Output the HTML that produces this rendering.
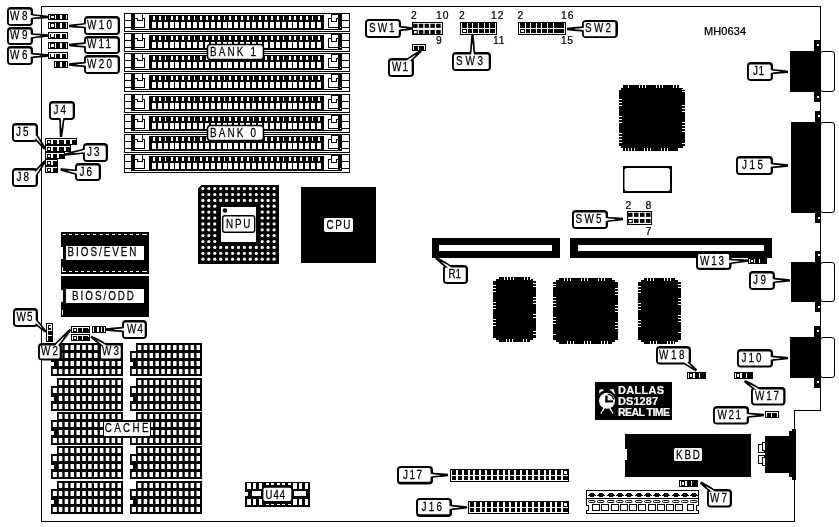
<!DOCTYPE html>
<html><head><meta charset="utf-8"><title>MH0634</title>
<style>
html,body{margin:0;padding:0;background:#fff;}
body{width:839px;height:527px;overflow:hidden;font-family:"Liberation Sans",sans-serif;}
svg{display:block;will-change:transform;}
svg text{font-family:"Liberation Sans",sans-serif;}
</style></head><body>
<svg width="839" height="527" viewBox="0 0 839 527" shape-rendering="crispEdges">
<rect x="0" y="0" width="839" height="527" fill="#fff"/>
<rect x="41" y="6" width="780" height="1" fill="#000"/>
<rect x="41" y="6" width="1" height="516" fill="#000"/>
<rect x="41" y="521" width="754" height="1" fill="#000"/>
<rect x="820" y="6" width="1" height="405" fill="#000"/>
<rect x="794" y="410" width="27" height="1" fill="#000"/>
<rect x="794" y="410" width="1" height="112" fill="#000"/>
<defs><g id="simm">
<rect x="124" y="0" width="226" height="1" fill="#000"/>
<rect x="124" y="18" width="226" height="1" fill="#000"/>
<rect x="124" y="0" width="1" height="19" fill="#000"/>
<rect x="349" y="0" width="1" height="19" fill="#000"/>
<rect x="124" y="7" width="8" height="1" fill="#000"/>
<rect x="124" y="14" width="8" height="1" fill="#000"/>
<rect x="131" y="0" width="4" height="17" fill="#000"/>
<rect x="131" y="16" width="211" height="1" fill="#000"/>
<rect x="142" y="0" width="1" height="8" fill="#000"/>
<rect x="135" y="5" width="3" height="1" fill="#000"/>
<rect x="137" y="5" width="1" height="3" fill="#000"/>
<rect x="137" y="7" width="6" height="1" fill="#000"/>
<rect x="142" y="5" width="3" height="1" fill="#000"/>
<rect x="144" y="5" width="1" height="10" fill="#000"/>
<rect x="135" y="14" width="10" height="1" fill="#000"/>
<rect x="149" y="2" width="175" height="15" fill="#000"/>
<rect x="153" y="3" width="2" height="4" fill="#fff"/>
<rect x="152" y="9" width="4" height="6" fill="#fff"/>
<rect x="159" y="3" width="2" height="4" fill="#fff"/>
<rect x="158" y="9" width="4" height="6" fill="#fff"/>
<rect x="165" y="3" width="1" height="4" fill="#fff"/>
<rect x="164" y="9" width="4" height="6" fill="#fff"/>
<rect x="171" y="3" width="2" height="4" fill="#fff"/>
<rect x="170" y="9" width="4" height="6" fill="#fff"/>
<rect x="176" y="3" width="2" height="4" fill="#fff"/>
<rect x="175" y="9" width="4" height="6" fill="#fff"/>
<rect x="182" y="3" width="2" height="4" fill="#fff"/>
<rect x="181" y="9" width="4" height="6" fill="#fff"/>
<rect x="188" y="3" width="2" height="4" fill="#fff"/>
<rect x="187" y="9" width="4" height="6" fill="#fff"/>
<rect x="194" y="3" width="1" height="4" fill="#fff"/>
<rect x="193" y="9" width="4" height="6" fill="#fff"/>
<rect x="200" y="3" width="2" height="4" fill="#fff"/>
<rect x="199" y="9" width="4" height="6" fill="#fff"/>
<rect x="206" y="3" width="2" height="4" fill="#fff"/>
<rect x="205" y="9" width="4" height="6" fill="#fff"/>
<rect x="212" y="3" width="2" height="4" fill="#fff"/>
<rect x="211" y="9" width="4" height="6" fill="#fff"/>
<rect x="218" y="3" width="2" height="4" fill="#fff"/>
<rect x="217" y="9" width="4" height="6" fill="#fff"/>
<rect x="224" y="3" width="1" height="4" fill="#fff"/>
<rect x="223" y="9" width="4" height="6" fill="#fff"/>
<rect x="229" y="3" width="2" height="4" fill="#fff"/>
<rect x="228" y="9" width="4" height="6" fill="#fff"/>
<rect x="235" y="3" width="2" height="4" fill="#fff"/>
<rect x="234" y="9" width="4" height="6" fill="#fff"/>
<rect x="241" y="3" width="2" height="4" fill="#fff"/>
<rect x="240" y="9" width="4" height="6" fill="#fff"/>
<rect x="247" y="3" width="2" height="4" fill="#fff"/>
<rect x="246" y="9" width="4" height="6" fill="#fff"/>
<rect x="253" y="3" width="1" height="4" fill="#fff"/>
<rect x="252" y="9" width="4" height="6" fill="#fff"/>
<rect x="259" y="3" width="2" height="4" fill="#fff"/>
<rect x="258" y="9" width="4" height="6" fill="#fff"/>
<rect x="265" y="3" width="2" height="4" fill="#fff"/>
<rect x="264" y="9" width="4" height="6" fill="#fff"/>
<rect x="271" y="3" width="2" height="4" fill="#fff"/>
<rect x="270" y="9" width="4" height="6" fill="#fff"/>
<rect x="277" y="3" width="2" height="4" fill="#fff"/>
<rect x="276" y="9" width="4" height="6" fill="#fff"/>
<rect x="283" y="3" width="1" height="4" fill="#fff"/>
<rect x="282" y="9" width="4" height="6" fill="#fff"/>
<rect x="289" y="3" width="2" height="4" fill="#fff"/>
<rect x="288" y="9" width="4" height="6" fill="#fff"/>
<rect x="294" y="3" width="2" height="4" fill="#fff"/>
<rect x="293" y="9" width="4" height="6" fill="#fff"/>
<rect x="300" y="3" width="2" height="4" fill="#fff"/>
<rect x="299" y="9" width="4" height="6" fill="#fff"/>
<rect x="306" y="3" width="2" height="4" fill="#fff"/>
<rect x="305" y="9" width="4" height="6" fill="#fff"/>
<rect x="312" y="3" width="1" height="4" fill="#fff"/>
<rect x="311" y="9" width="4" height="6" fill="#fff"/>
<rect x="318" y="3" width="2" height="4" fill="#fff"/>
<rect x="317" y="9" width="4" height="6" fill="#fff"/>
<rect x="331" y="1" width="8" height="1" fill="#000"/>
<rect x="331" y="1" width="1" height="8" fill="#000"/>
<rect x="331" y="8" width="6" height="1" fill="#000"/>
<rect x="336" y="5" width="1" height="4" fill="#000"/>
<rect x="336" y="5" width="3" height="1" fill="#000"/>
<rect x="328" y="5" width="4" height="1" fill="#000"/>
<rect x="328" y="5" width="1" height="10" fill="#000"/>
<rect x="328" y="14" width="11" height="1" fill="#000"/>
<rect x="338" y="0" width="4" height="17" fill="#000"/>
<rect x="340" y="14" width="1" height="1" fill="#fff"/>
<rect x="342" y="7" width="8" height="1" fill="#000"/>
<rect x="342" y="14" width="8" height="1" fill="#000"/>
</g></defs>
<use href="#simm" y="13"/>
<use href="#simm" y="33"/>
<use href="#simm" y="53"/>
<use href="#simm" y="73"/>
<use href="#simm" y="94"/>
<use href="#simm" y="114"/>
<use href="#simm" y="134"/>
<use href="#simm" y="154"/>
<rect x="48" y="14" width="20" height="6" fill="#000"/>
<rect x="49" y="15" width="1" height="4" fill="#fff"/>
<rect x="55" y="15" width="1" height="4" fill="#fff"/>
<rect x="60" y="15" width="2" height="4" fill="#fff"/>
<rect x="66" y="15" width="1" height="4" fill="#fff"/>
<rect x="51" y="16" width="3" height="2" fill="#fff"/>
<rect x="48" y="22" width="20" height="7" fill="#000"/>
<rect x="49" y="23" width="1" height="5" fill="#fff"/>
<rect x="55" y="23" width="1" height="5" fill="#fff"/>
<rect x="60" y="23" width="2" height="5" fill="#fff"/>
<rect x="66" y="23" width="1" height="5" fill="#fff"/>
<rect x="51" y="24" width="3" height="3" fill="#fff"/>
<rect x="48" y="32" width="20" height="7" fill="#000"/>
<rect x="49" y="33" width="1" height="5" fill="#fff"/>
<rect x="55" y="33" width="1" height="5" fill="#fff"/>
<rect x="60" y="33" width="2" height="5" fill="#fff"/>
<rect x="66" y="33" width="1" height="5" fill="#fff"/>
<rect x="51" y="34" width="3" height="3" fill="#fff"/>
<rect x="49" y="33" width="18" height="1" fill="#fff"/>
<rect x="48" y="42" width="20" height="7" fill="#000"/>
<rect x="49" y="43" width="1" height="5" fill="#fff"/>
<rect x="55" y="43" width="1" height="5" fill="#fff"/>
<rect x="60" y="43" width="2" height="5" fill="#fff"/>
<rect x="66" y="43" width="1" height="5" fill="#fff"/>
<rect x="51" y="44" width="3" height="3" fill="#fff"/>
<rect x="48" y="52" width="20" height="7" fill="#000"/>
<rect x="49" y="53" width="1" height="5" fill="#fff"/>
<rect x="55" y="53" width="1" height="5" fill="#fff"/>
<rect x="60" y="53" width="2" height="5" fill="#fff"/>
<rect x="66" y="53" width="1" height="5" fill="#fff"/>
<rect x="51" y="54" width="3" height="3" fill="#fff"/>
<rect x="49" y="53" width="18" height="1" fill="#fff"/>
<rect x="54" y="61" width="14" height="7" fill="#000"/>
<rect x="55" y="62" width="1" height="5" fill="#fff"/>
<rect x="60" y="62" width="2" height="5" fill="#fff"/>
<rect x="66" y="62" width="1" height="5" fill="#fff"/>
<g shape-rendering="geometricPrecision">
<polygon points="31,12.8 33.9606,14.186 41.2559,14.9008 48.0338,15.8505 47.9662,18.1495 41.1441,18.6992 33.8194,18.984 31,20.2" fill="#000"/>
</g>
<rect x="7" y="7" width="26" height="19" rx="4" fill="#000" shape-rendering="geometricPrecision"/>
<rect x="8.9" y="9.4" width="21.8" height="14.6" rx="1.5" fill="#fff" shape-rendering="geometricPrecision"/>
<g shape-rendering="geometricPrecision">
<polygon points="29.3,14.75 33.9135,15.7853 40.3559,16.5751 40.3441,16.9749 33.8665,17.3847 29.3,18.15" fill="#fff"/>
</g>
<text transform="translate(10,20) scale(0.76,1)" font-size="13" font-weight="normal" fill="#000" stroke="#000" stroke-width="0.25" text-anchor="start" textLength="23.0263" lengthAdjust="spacing">W8</text>
<g shape-rendering="geometricPrecision">
<polygon points="31,32.3 33.8194,33.516 41.1441,33.8008 47.9662,34.3505 48.0338,36.6495 41.2559,37.5992 33.9606,38.314 31,39.7" fill="#000"/>
</g>
<rect x="7" y="27" width="26" height="18" rx="4" fill="#000" shape-rendering="geometricPrecision"/>
<rect x="8.9" y="29.4" width="21.8" height="13.6" rx="1.5" fill="#fff" shape-rendering="geometricPrecision"/>
<g shape-rendering="geometricPrecision">
<polygon points="29.3,34.35 33.8665,35.1153 40.3441,35.5251 40.3559,35.9249 33.9135,36.7147 29.3,37.75" fill="#fff"/>
</g>
<text transform="translate(10,39) scale(0.76,1)" font-size="13" font-weight="normal" fill="#000" stroke="#000" stroke-width="0.25" text-anchor="start" textLength="23.0263" lengthAdjust="spacing">W9</text>
<g shape-rendering="geometricPrecision">
<polygon points="31,51.8 33.89,53.1 41.2,53.6 48,54.35 48,56.65 41.2,57.4 33.89,57.9 31,59.2" fill="#000"/>
</g>
<rect x="7" y="46" width="26" height="19" rx="4" fill="#000" shape-rendering="geometricPrecision"/>
<rect x="8.9" y="48.4" width="21.8" height="14.6" rx="1.5" fill="#fff" shape-rendering="geometricPrecision"/>
<g shape-rendering="geometricPrecision">
<polygon points="29.3,53.8 33.89,54.7 40.35,55.3 40.35,55.7 33.89,56.3 29.3,57.2" fill="#fff"/>
</g>
<text transform="translate(10,59) scale(0.76,1)" font-size="13" font-weight="normal" fill="#000" stroke="#000" stroke-width="0.25" text-anchor="start" textLength="23.0263" lengthAdjust="spacing">W6</text>
<g shape-rendering="geometricPrecision">
<polygon points="86,21.8 83.0394,23.186 75.7441,23.9008 68.9662,24.8505 69.0338,27.1495 75.8559,27.6992 83.1806,27.984 86,29.2" fill="#000"/>
</g>
<rect x="84" y="16" width="36" height="19" rx="4" fill="#000" shape-rendering="geometricPrecision"/>
<rect x="85.9" y="18.4" width="31.8" height="14.6" rx="1.5" fill="#fff" shape-rendering="geometricPrecision"/>
<g shape-rendering="geometricPrecision">
<polygon points="87.7,23.75 83.0865,24.7853 76.6441,25.5751 76.6559,25.9749 83.1335,26.3847 87.7,27.15" fill="#fff"/>
</g>
<text transform="translate(87,29) scale(0.76,1)" font-size="13" font-weight="normal" fill="#000" stroke="#000" stroke-width="0.25" text-anchor="start" textLength="32.8947" lengthAdjust="spacing">W10</text>
<g shape-rendering="geometricPrecision">
<polygon points="86,41.3 83.11,42.6 75.8,43.1 69,43.85 69,46.15 75.8,46.9 83.11,47.4 86,48.7" fill="#000"/>
</g>
<rect x="84" y="36" width="36" height="18" rx="4" fill="#000" shape-rendering="geometricPrecision"/>
<rect x="85.9" y="38.4" width="31.8" height="13.6" rx="1.5" fill="#fff" shape-rendering="geometricPrecision"/>
<g shape-rendering="geometricPrecision">
<polygon points="87.7,43.3 83.11,44.2 76.65,44.8 76.65,45.2 83.11,45.8 87.7,46.7" fill="#fff"/>
</g>
<text transform="translate(87,48) scale(0.76,1)" font-size="13" font-weight="normal" fill="#000" stroke="#000" stroke-width="0.25" text-anchor="start" textLength="31.5789" lengthAdjust="spacing">W11</text>
<g shape-rendering="geometricPrecision">
<polygon points="86,60.8 83.11,62.1 75.8,62.6 69,63.35 69,65.65 75.8,66.4 83.11,66.9 86,68.2" fill="#000"/>
</g>
<rect x="84" y="55" width="36" height="19" rx="4" fill="#000" shape-rendering="geometricPrecision"/>
<rect x="85.9" y="57.4" width="31.8" height="14.6" rx="1.5" fill="#fff" shape-rendering="geometricPrecision"/>
<g shape-rendering="geometricPrecision">
<polygon points="87.7,62.8 83.11,63.7 76.65,64.3 76.65,64.7 83.11,65.3 87.7,66.2" fill="#fff"/>
</g>
<text transform="translate(87,68) scale(0.76,1)" font-size="13" font-weight="normal" fill="#000" stroke="#000" stroke-width="0.25" text-anchor="start" textLength="32.8947" lengthAdjust="spacing">W20</text>
<rect x="45" y="138" width="32" height="7" fill="#000"/>
<rect x="46" y="139" width="30" height="1" fill="#fff"/>
<rect x="46" y="139" width="1" height="5" fill="#fff"/>
<rect x="48" y="141" width="2" height="2" fill="#fff"/>
<rect x="51" y="139" width="2" height="5" fill="#fff"/>
<rect x="57" y="139" width="2" height="5" fill="#fff"/>
<rect x="64" y="139" width="2" height="5" fill="#fff"/>
<rect x="70" y="139" width="2" height="5" fill="#fff"/>
<rect x="45" y="145" width="26" height="7" fill="#000"/>
<rect x="46" y="146" width="24" height="1" fill="#fff"/>
<rect x="46" y="146" width="1" height="5" fill="#fff"/>
<rect x="48" y="148" width="2" height="2" fill="#fff"/>
<rect x="51" y="146" width="2" height="5" fill="#fff"/>
<rect x="57" y="146" width="2" height="5" fill="#fff"/>
<rect x="64" y="146" width="2" height="5" fill="#fff"/>
<rect x="45" y="152" width="20" height="7" fill="#000"/>
<rect x="46" y="153" width="18" height="1" fill="#fff"/>
<rect x="46" y="153" width="1" height="5" fill="#fff"/>
<rect x="48" y="155" width="2" height="2" fill="#fff"/>
<rect x="51" y="153" width="2" height="5" fill="#fff"/>
<rect x="57" y="153" width="2" height="5" fill="#fff"/>
<rect x="45" y="159" width="13" height="7" fill="#000"/>
<rect x="46" y="160" width="11" height="1" fill="#fff"/>
<rect x="46" y="160" width="1" height="5" fill="#fff"/>
<rect x="48" y="162" width="2" height="2" fill="#fff"/>
<rect x="51" y="160" width="2" height="5" fill="#fff"/>
<rect x="45" y="166" width="13" height="7" fill="#000"/>
<rect x="46" y="167" width="11" height="1" fill="#fff"/>
<rect x="46" y="167" width="1" height="5" fill="#fff"/>
<rect x="48" y="169" width="2" height="2" fill="#fff"/>
<rect x="51" y="167" width="2" height="5" fill="#fff"/>
<g shape-rendering="geometricPrecision">
<polygon points="58.3,118 59.4333,121.104 59.5026,129.3 59.8516,136.94 62.1484,137.06 63.2974,129.5 64.2267,121.356 65.7,118" fill="#000"/>
</g>
<rect x="49" y="101" width="26" height="19" rx="4" fill="#000" shape-rendering="geometricPrecision"/>
<rect x="50.9" y="103.4" width="21.8" height="14.6" rx="1.5" fill="#fff" shape-rendering="geometricPrecision"/>
<g shape-rendering="geometricPrecision">
<polygon points="60.4,116.1 61.0311,121.188 61.2503,128.439 61.6497,128.461 62.6289,121.272 63.8,116.1" fill="#fff"/>
</g>
<text transform="translate(53.5,114) scale(0.76,1)" font-size="13" font-weight="normal" fill="#000" stroke="#000" stroke-width="0.25" text-anchor="start" textLength="16.4474" lengthAdjust="spacing">J4</text>
<g shape-rendering="geometricPrecision">
<polygon points="36,133.3 39.45,137.6 42.92,143.06 45.92,148.31 44.08,149.69 39.88,145.34 35.61,140.48 36,140.7" fill="#000"/>
</g>
<rect x="12" y="123" width="26" height="19" rx="4" fill="#000" shape-rendering="geometricPrecision"/>
<rect x="13.9" y="125.4" width="21.8" height="14.6" rx="1.5" fill="#fff" shape-rendering="geometricPrecision"/>
<g shape-rendering="geometricPrecision">
<polygon points="35.1,134.1 38.17,138.56 41.11,143.48 40.79,143.72 36.89,139.52 35.1,137.5" fill="#fff"/>
</g>
<text transform="translate(16,136) scale(0.76,1)" font-size="13" font-weight="normal" fill="#000" stroke="#000" stroke-width="0.25" text-anchor="start" textLength="16.4474" lengthAdjust="spacing">J5</text>
<g shape-rendering="geometricPrecision">
<polygon points="85,147.3 81.1748,149.25 72.6634,151.29 64.7963,153.468 65.2037,155.732 73.3366,155.03 82.0252,153.974 85,154.7" fill="#000"/>
</g>
<rect x="83" y="143" width="25" height="19" rx="4" fill="#000" shape-rendering="geometricPrecision"/>
<rect x="84.9" y="145.4" width="20.8" height="14.6" rx="1.5" fill="#fff" shape-rendering="geometricPrecision"/>
<g shape-rendering="geometricPrecision">
<polygon points="87,148.94 81.4583,150.825 73.9646,152.783 74.0354,153.177 81.7417,152.399 87,152.34" fill="#fff"/>
</g>
<text transform="translate(87,156) scale(0.76,1)" font-size="13" font-weight="normal" fill="#000" stroke="#000" stroke-width="0.25" text-anchor="start" textLength="16.4474" lengthAdjust="spacing">J3</text>
<g shape-rendering="geometricPrecision">
<polygon points="36,169.3 35.61,169.52 39.88,164.66 44.08,160.31 45.92,161.69 42.92,166.94 39.45,172.4 36,176.7" fill="#000"/>
</g>
<rect x="12" y="168" width="26" height="19" rx="4" fill="#000" shape-rendering="geometricPrecision"/>
<rect x="13.9" y="170.4" width="21.8" height="14.6" rx="1.5" fill="#fff" shape-rendering="geometricPrecision"/>
<g shape-rendering="geometricPrecision">
<polygon points="35.1,172.5 36.89,170.48 40.79,166.28 41.11,166.52 38.17,171.44 35.1,175.9" fill="#fff"/>
</g>
<text transform="translate(16.5,181) scale(0.76,1)" font-size="13" font-weight="normal" fill="#000" stroke="#000" stroke-width="0.25" text-anchor="start" textLength="16.4474" lengthAdjust="spacing">J8</text>
<g shape-rendering="geometricPrecision">
<polygon points="77,168.7 74.6382,169.514 67.4508,168.673 60.7123,168.17 60.2877,170.43 66.7492,172.407 73.7518,174.232 77,176.1" fill="#000"/>
</g>
<rect x="75" y="163" width="26" height="18" rx="4" fill="#000" shape-rendering="geometricPrecision"/>
<rect x="76.9" y="165.4" width="21.8" height="13.6" rx="1.5" fill="#fff" shape-rendering="geometricPrecision"/>
<g shape-rendering="geometricPrecision">
<polygon points="78.65,171.01 74.3427,171.087 67.9619,170.498 67.8881,170.892 74.0473,172.659 78.65,174.41" fill="#fff"/>
</g>
<text transform="translate(79.5,175.8) scale(0.76,1)" font-size="13" font-weight="normal" fill="#000" stroke="#000" stroke-width="0.25" text-anchor="start" textLength="16.4474" lengthAdjust="spacing">J6</text>
<rect x="207.5" y="44.5" width="56" height="15" rx="3" fill="#fff" stroke="#000" stroke-width="1.6" shape-rendering="geometricPrecision"/>
<text transform="translate(210,55.5) scale(0.76,1)" font-size="13" font-weight="normal" fill="#000" stroke="#000" stroke-width="0.25" text-anchor="start" textLength="60.5263" lengthAdjust="spacing">BANK 1</text>
<rect x="207.5" y="125.5" width="56" height="15" rx="3" fill="#fff" stroke="#000" stroke-width="1.6" shape-rendering="geometricPrecision"/>
<text transform="translate(210,136.5) scale(0.76,1)" font-size="13" font-weight="normal" fill="#000" stroke="#000" stroke-width="0.25" text-anchor="start" textLength="60.5263" lengthAdjust="spacing">BANK 0</text>
<rect x="198" y="185" width="81" height="79" fill="#000"/>
<polygon points="198,185 201,185 198,188" fill="#fff"/>
<g fill="#fff" shape-rendering="geometricPrecision">
<circle cx="202.9" cy="188.6" r="1.6"/>
<circle cx="208.8" cy="188.6" r="1.6"/>
<circle cx="214.8" cy="188.6" r="1.6"/>
<circle cx="220.7" cy="188.6" r="1.6"/>
<circle cx="226.6" cy="188.6" r="1.6"/>
<circle cx="232.6" cy="188.6" r="1.6"/>
<circle cx="238.5" cy="188.6" r="1.6"/>
<circle cx="244.4" cy="188.6" r="1.6"/>
<circle cx="250.3" cy="188.6" r="1.6"/>
<circle cx="256.3" cy="188.6" r="1.6"/>
<circle cx="262.2" cy="188.6" r="1.6"/>
<circle cx="268.1" cy="188.6" r="1.6"/>
<circle cx="274.1" cy="188.6" r="1.6"/>
<circle cx="202.9" cy="194.5" r="1.6"/>
<circle cx="208.8" cy="194.5" r="1.6"/>
<circle cx="214.8" cy="194.5" r="1.6"/>
<circle cx="220.7" cy="194.5" r="1.6"/>
<circle cx="226.6" cy="194.5" r="1.6"/>
<circle cx="232.6" cy="194.5" r="1.6"/>
<circle cx="238.5" cy="194.5" r="1.6"/>
<circle cx="244.4" cy="194.5" r="1.6"/>
<circle cx="250.3" cy="194.5" r="1.6"/>
<circle cx="256.3" cy="194.5" r="1.6"/>
<circle cx="262.2" cy="194.5" r="1.6"/>
<circle cx="268.1" cy="194.5" r="1.6"/>
<circle cx="274.1" cy="194.5" r="1.6"/>
<circle cx="202.9" cy="200.4" r="1.6"/>
<circle cx="208.8" cy="200.4" r="1.6"/>
<circle cx="214.8" cy="200.4" r="1.6"/>
<circle cx="220.7" cy="200.4" r="1.6"/>
<circle cx="226.6" cy="200.4" r="1.6"/>
<circle cx="232.6" cy="200.4" r="1.6"/>
<circle cx="238.5" cy="200.4" r="1.6"/>
<circle cx="244.4" cy="200.4" r="1.6"/>
<circle cx="250.3" cy="200.4" r="1.6"/>
<circle cx="256.3" cy="200.4" r="1.6"/>
<circle cx="262.2" cy="200.4" r="1.6"/>
<circle cx="268.1" cy="200.4" r="1.6"/>
<circle cx="274.1" cy="200.4" r="1.6"/>
<circle cx="202.9" cy="206.2" r="1.6"/>
<circle cx="208.8" cy="206.2" r="1.6"/>
<circle cx="214.8" cy="206.2" r="1.6"/>
<circle cx="262.2" cy="206.2" r="1.6"/>
<circle cx="268.1" cy="206.2" r="1.6"/>
<circle cx="274.1" cy="206.2" r="1.6"/>
<circle cx="202.9" cy="212.1" r="1.6"/>
<circle cx="208.8" cy="212.1" r="1.6"/>
<circle cx="214.8" cy="212.1" r="1.6"/>
<circle cx="262.2" cy="212.1" r="1.6"/>
<circle cx="268.1" cy="212.1" r="1.6"/>
<circle cx="274.1" cy="212.1" r="1.6"/>
<circle cx="202.9" cy="218.0" r="1.6"/>
<circle cx="208.8" cy="218.0" r="1.6"/>
<circle cx="214.8" cy="218.0" r="1.6"/>
<circle cx="262.2" cy="218.0" r="1.6"/>
<circle cx="268.1" cy="218.0" r="1.6"/>
<circle cx="274.1" cy="218.0" r="1.6"/>
<circle cx="202.9" cy="223.9" r="1.6"/>
<circle cx="208.8" cy="223.9" r="1.6"/>
<circle cx="214.8" cy="223.9" r="1.6"/>
<circle cx="262.2" cy="223.9" r="1.6"/>
<circle cx="268.1" cy="223.9" r="1.6"/>
<circle cx="274.1" cy="223.9" r="1.6"/>
<circle cx="202.9" cy="229.8" r="1.6"/>
<circle cx="208.8" cy="229.8" r="1.6"/>
<circle cx="214.8" cy="229.8" r="1.6"/>
<circle cx="262.2" cy="229.8" r="1.6"/>
<circle cx="268.1" cy="229.8" r="1.6"/>
<circle cx="274.1" cy="229.8" r="1.6"/>
<circle cx="202.9" cy="235.6" r="1.6"/>
<circle cx="208.8" cy="235.6" r="1.6"/>
<circle cx="214.8" cy="235.6" r="1.6"/>
<circle cx="262.2" cy="235.6" r="1.6"/>
<circle cx="268.1" cy="235.6" r="1.6"/>
<circle cx="274.1" cy="235.6" r="1.6"/>
<circle cx="202.9" cy="241.5" r="1.6"/>
<circle cx="208.8" cy="241.5" r="1.6"/>
<circle cx="214.8" cy="241.5" r="1.6"/>
<circle cx="262.2" cy="241.5" r="1.6"/>
<circle cx="268.1" cy="241.5" r="1.6"/>
<circle cx="274.1" cy="241.5" r="1.6"/>
<circle cx="202.9" cy="247.4" r="1.6"/>
<circle cx="208.8" cy="247.4" r="1.6"/>
<circle cx="214.8" cy="247.4" r="1.6"/>
<circle cx="220.7" cy="247.4" r="1.6"/>
<circle cx="226.6" cy="247.4" r="1.6"/>
<circle cx="232.6" cy="247.4" r="1.6"/>
<circle cx="238.5" cy="247.4" r="1.6"/>
<circle cx="244.4" cy="247.4" r="1.6"/>
<circle cx="250.3" cy="247.4" r="1.6"/>
<circle cx="256.3" cy="247.4" r="1.6"/>
<circle cx="262.2" cy="247.4" r="1.6"/>
<circle cx="268.1" cy="247.4" r="1.6"/>
<circle cx="274.1" cy="247.4" r="1.6"/>
<circle cx="202.9" cy="253.3" r="1.6"/>
<circle cx="208.8" cy="253.3" r="1.6"/>
<circle cx="214.8" cy="253.3" r="1.6"/>
<circle cx="220.7" cy="253.3" r="1.6"/>
<circle cx="226.6" cy="253.3" r="1.6"/>
<circle cx="232.6" cy="253.3" r="1.6"/>
<circle cx="238.5" cy="253.3" r="1.6"/>
<circle cx="244.4" cy="253.3" r="1.6"/>
<circle cx="250.3" cy="253.3" r="1.6"/>
<circle cx="256.3" cy="253.3" r="1.6"/>
<circle cx="262.2" cy="253.3" r="1.6"/>
<circle cx="268.1" cy="253.3" r="1.6"/>
<circle cx="274.1" cy="253.3" r="1.6"/>
<circle cx="202.9" cy="259.2" r="1.6"/>
<circle cx="208.8" cy="259.2" r="1.6"/>
<circle cx="214.8" cy="259.2" r="1.6"/>
<circle cx="220.7" cy="259.2" r="1.6"/>
<circle cx="226.6" cy="259.2" r="1.6"/>
<circle cx="232.6" cy="259.2" r="1.6"/>
<circle cx="238.5" cy="259.2" r="1.6"/>
<circle cx="244.4" cy="259.2" r="1.6"/>
<circle cx="250.3" cy="259.2" r="1.6"/>
<circle cx="256.3" cy="259.2" r="1.6"/>
<circle cx="262.2" cy="259.2" r="1.6"/>
<circle cx="268.1" cy="259.2" r="1.6"/>
<circle cx="274.1" cy="259.2" r="1.6"/>
</g>
<rect x="221" y="207" width="35" height="35" fill="#fff"/>
<circle cx="225" cy="210.5" r="2.3" fill="#000" shape-rendering="geometricPrecision"/>
<rect x="222.7" y="215.7" width="32" height="16.5" rx="2" fill="#fff" stroke="#000" stroke-width="1.4" shape-rendering="geometricPrecision"/>
<text transform="translate(226,227.6) scale(0.76,1)" font-size="13" font-weight="normal" fill="#000" stroke="#000" stroke-width="0.25" text-anchor="start" textLength="32.2368" lengthAdjust="spacing">NPU</text>
<rect x="301" y="187" width="75" height="76" fill="#000"/>
<rect x="324" y="218" width="29" height="14" rx="2" fill="#fff" shape-rendering="geometricPrecision"/>
<text transform="translate(326.5,228.6) scale(0.76,1)" font-size="13" font-weight="normal" fill="#000" stroke="#000" stroke-width="0.25" text-anchor="start" textLength="31.5789" lengthAdjust="spacing">CPU</text>
<rect x="61" y="232" width="88" height="42" fill="#000"/>
<rect x="63" y="234" width="3" height="1" fill="#fff"/>
<rect x="63" y="271" width="3" height="1" fill="#fff"/>
<rect x="69" y="234" width="3" height="1" fill="#fff"/>
<rect x="69" y="271" width="3" height="1" fill="#fff"/>
<rect x="75" y="234" width="3" height="1" fill="#fff"/>
<rect x="75" y="271" width="3" height="1" fill="#fff"/>
<rect x="81" y="234" width="3" height="1" fill="#fff"/>
<rect x="81" y="271" width="3" height="1" fill="#fff"/>
<rect x="87" y="234" width="3" height="1" fill="#fff"/>
<rect x="87" y="271" width="3" height="1" fill="#fff"/>
<rect x="93" y="234" width="3" height="1" fill="#fff"/>
<rect x="93" y="271" width="3" height="1" fill="#fff"/>
<rect x="100" y="234" width="3" height="1" fill="#fff"/>
<rect x="100" y="271" width="3" height="1" fill="#fff"/>
<rect x="106" y="234" width="3" height="1" fill="#fff"/>
<rect x="106" y="271" width="3" height="1" fill="#fff"/>
<rect x="112" y="234" width="3" height="1" fill="#fff"/>
<rect x="112" y="271" width="3" height="1" fill="#fff"/>
<rect x="118" y="234" width="3" height="1" fill="#fff"/>
<rect x="118" y="271" width="3" height="1" fill="#fff"/>
<rect x="124" y="234" width="3" height="1" fill="#fff"/>
<rect x="124" y="271" width="3" height="1" fill="#fff"/>
<rect x="130" y="234" width="3" height="1" fill="#fff"/>
<rect x="130" y="271" width="3" height="1" fill="#fff"/>
<rect x="136" y="234" width="3" height="1" fill="#fff"/>
<rect x="136" y="271" width="3" height="1" fill="#fff"/>
<rect x="142" y="234" width="3" height="1" fill="#fff"/>
<rect x="142" y="271" width="3" height="1" fill="#fff"/>
<rect x="144" y="234" width="3" height="1" fill="#fff"/>
<rect x="144" y="271" width="3" height="1" fill="#fff"/>
<rect x="62" y="267" width="1" height="5" fill="#fff"/>
<rect x="61" y="247" width="2" height="12" fill="#fff"/>
<rect x="66" y="246" width="78" height="14" fill="#fff"/>
<text transform="translate(67.5,255.7) scale(0.76,1)" font-size="13" font-weight="normal" fill="#000" stroke="#000" stroke-width="0.25" text-anchor="start" textLength="90.7895" lengthAdjust="spacing">BIOS/EVEN</text>
<rect x="61" y="276" width="88" height="41" fill="#000"/>
<rect x="61" y="290" width="2" height="12" fill="#fff"/>
<rect x="62" y="310" width="1" height="5" fill="#fff"/>
<rect x="66" y="289" width="78" height="14" fill="#fff"/>
<text transform="translate(72,299.8) scale(0.76,1)" font-size="13" font-weight="normal" fill="#000" stroke="#000" stroke-width="0.25" text-anchor="start" textLength="81.5789" lengthAdjust="spacing">BIOS/ODD</text>
<rect x="46" y="323" width="7" height="19" fill="#000"/>
<rect x="47" y="324" width="5" height="1" fill="#fff"/>
<rect x="47" y="324" width="1" height="17" fill="#fff"/>
<rect x="51" y="324" width="1" height="6" fill="#fff"/>
<rect x="49" y="326" width="2" height="2" fill="#fff"/>
<rect x="47" y="330" width="5" height="1" fill="#fff"/>
<rect x="47" y="335" width="5" height="1" fill="#fff"/>
<rect x="71" y="326" width="19" height="7" fill="#000"/>
<rect x="72" y="327" width="17" height="1" fill="#fff"/>
<rect x="72" y="327" width="1" height="5" fill="#fff"/>
<rect x="74" y="329" width="2" height="2" fill="#fff"/>
<rect x="77" y="327" width="1" height="5" fill="#fff"/>
<rect x="82" y="327" width="1" height="5" fill="#fff"/>
<rect x="88" y="327" width="1" height="2" fill="#fff"/>
<rect x="71" y="334" width="19" height="7" fill="#000"/>
<rect x="72" y="335" width="17" height="1" fill="#fff"/>
<rect x="72" y="335" width="1" height="5" fill="#fff"/>
<rect x="74" y="337" width="2" height="2" fill="#fff"/>
<rect x="77" y="335" width="1" height="5" fill="#fff"/>
<rect x="82" y="335" width="1" height="5" fill="#fff"/>
<rect x="88" y="335" width="1" height="2" fill="#fff"/>
<rect x="92" y="326" width="14" height="7" fill="#000"/>
<rect x="93" y="327" width="1" height="5" fill="#fff"/>
<rect x="97" y="327" width="2" height="5" fill="#fff"/>
<rect x="101" y="327" width="1" height="5" fill="#fff"/>
<rect x="104" y="327" width="1" height="5" fill="#fff"/>
<g shape-rendering="geometricPrecision">
<polygon points="36,318.3 39.3971,322.003 43.3435,326.656 46.8132,331.187 45.1868,332.813 40.6565,329.344 36.0029,325.397 36,325.7" fill="#000"/>
</g>
<rect x="13" y="308" width="25" height="19" rx="4" fill="#000" shape-rendering="geometricPrecision"/>
<rect x="14.9" y="310.4" width="20.8" height="14.6" rx="1.5" fill="#fff" shape-rendering="geometricPrecision"/>
<g shape-rendering="geometricPrecision">
<polygon points="35,319.3 38.2657,323.134 41.6414,327.359 41.3586,327.641 37.1343,324.266 35,322.7" fill="#fff"/>
</g>
<text transform="translate(16.5,321) scale(0.76,1)" font-size="13" font-weight="normal" fill="#000" stroke="#000" stroke-width="0.25" text-anchor="start" textLength="21.0526" lengthAdjust="spacing">W5</text>
<g shape-rendering="geometricPrecision">
<polygon points="124,325.8 120.94,327.1 113.2,327.6 106,328.35 106,330.65 113.2,331.4 120.94,331.9 124,333.2" fill="#000"/>
</g>
<rect x="122" y="320" width="25" height="19" rx="4" fill="#000" shape-rendering="geometricPrecision"/>
<rect x="123.9" y="322.4" width="20.8" height="14.6" rx="1.5" fill="#fff" shape-rendering="geometricPrecision"/>
<g shape-rendering="geometricPrecision">
<polygon points="125.8,327.8 120.94,328.7 114.1,329.3 114.1,329.7 120.94,330.3 125.8,331.2" fill="#fff"/>
</g>
<text transform="translate(127,333) scale(0.76,1)" font-size="13" font-weight="normal" fill="#000" stroke="#000" stroke-width="0.25" text-anchor="start" textLength="21.0526" lengthAdjust="spacing">W4</text>
<defs><g id="cchip">
<rect x="0" y="8" width="72" height="25" fill="#000"/>
<rect x="6" y="0" width="66" height="9" fill="#000"/>
<rect x="0" y="19" width="3" height="4" fill="#fff"/>
<g shape-rendering="geometricPrecision" fill="#fff">
<rect x="7.80" y="2" width="3.5" height="5"/>
<rect x="13.67" y="2" width="3.5" height="5"/>
<rect x="19.54" y="2" width="3.5" height="5"/>
<rect x="25.41" y="2" width="3.5" height="5"/>
<rect x="31.28" y="2" width="3.5" height="5"/>
<rect x="37.15" y="2" width="3.5" height="5"/>
<rect x="43.02" y="2" width="3.5" height="5"/>
<rect x="48.89" y="2" width="3.5" height="5"/>
<rect x="54.76" y="2" width="3.5" height="5"/>
<rect x="60.63" y="2" width="3.5" height="5"/>
<rect x="66.50" y="2" width="3.5" height="5"/>
<rect x="1.80" y="10" width="4.1" height="5"/>
<rect x="7.80" y="10" width="3.5" height="5"/>
<rect x="13.67" y="10" width="3.5" height="5"/>
<rect x="19.54" y="10" width="3.5" height="5"/>
<rect x="25.41" y="10" width="3.5" height="5"/>
<rect x="31.28" y="10" width="3.5" height="5"/>
<rect x="37.15" y="10" width="3.5" height="5"/>
<rect x="43.02" y="10" width="3.5" height="5"/>
<rect x="48.89" y="10" width="3.5" height="5"/>
<rect x="54.76" y="10" width="3.5" height="5"/>
<rect x="60.63" y="10" width="3.5" height="5"/>
<rect x="66.50" y="10" width="3.5" height="5"/>
<rect x="7.80" y="18" width="3.5" height="5"/>
<rect x="13.67" y="18" width="3.5" height="5"/>
<rect x="19.54" y="18" width="3.5" height="5"/>
<rect x="25.41" y="18" width="3.5" height="5"/>
<rect x="31.28" y="18" width="3.5" height="5"/>
<rect x="37.15" y="18" width="3.5" height="5"/>
<rect x="43.02" y="18" width="3.5" height="5"/>
<rect x="48.89" y="18" width="3.5" height="5"/>
<rect x="54.76" y="18" width="3.5" height="5"/>
<rect x="60.63" y="18" width="3.5" height="5"/>
<rect x="66.50" y="18" width="3.5" height="5"/>
<rect x="1.80" y="26" width="4.1" height="5"/>
<rect x="7.80" y="26" width="3.5" height="5"/>
<rect x="13.67" y="26" width="3.5" height="5"/>
<rect x="19.54" y="26" width="3.5" height="5"/>
<rect x="25.41" y="26" width="3.5" height="5"/>
<rect x="31.28" y="26" width="3.5" height="5"/>
<rect x="37.15" y="26" width="3.5" height="5"/>
<rect x="43.02" y="26" width="3.5" height="5"/>
<rect x="48.89" y="26" width="3.5" height="5"/>
<rect x="54.76" y="26" width="3.5" height="5"/>
<rect x="60.63" y="26" width="3.5" height="5"/>
<rect x="66.50" y="26" width="3.5" height="5"/>
</g>
</g></defs>
<use href="#cchip" x="51" y="343"/>
<use href="#cchip" x="130" y="343"/>
<use href="#cchip" x="51" y="378"/>
<use href="#cchip" x="130" y="378"/>
<use href="#cchip" x="51" y="412"/>
<use href="#cchip" x="130" y="412"/>
<use href="#cchip" x="51" y="446"/>
<use href="#cchip" x="130" y="446"/>
<use href="#cchip" x="51" y="481"/>
<use href="#cchip" x="130" y="481"/>
<rect x="103" y="420" width="48" height="18" fill="#000"/>
<rect x="104" y="422" width="46" height="14" fill="#fff"/>
<text transform="translate(104.7,431.9) scale(0.76,1)" font-size="13" font-weight="normal" fill="#000" stroke="#000" stroke-width="0.25" text-anchor="start" textLength="57.6316" lengthAdjust="spacing">CACHE</text>
<g shape-rendering="geometricPrecision">
<polygon points="53.3,345 57.4852,340.789 63.6672,334.452 69.6328,328.745 71.3672,330.255 66.5328,336.948 61.1048,343.941 60.7,345" fill="#000"/>
</g>
<rect x="38" y="343" width="24" height="17.5" rx="4" fill="#000" shape-rendering="geometricPrecision"/>
<rect x="39.9" y="345.4" width="19.8" height="13.1" rx="1.5" fill="#fff" shape-rendering="geometricPrecision"/>
<g shape-rendering="geometricPrecision">
<polygon points="53.95,346.55 58.6917,341.84 64.2742,336.344 64.5758,336.606 59.8983,342.89 57.35,346.55" fill="#fff"/>
</g>
<text transform="translate(41,354.5) scale(0.76,1)" font-size="13" font-weight="normal" fill="#000" stroke="#000" stroke-width="0.25" text-anchor="start" textLength="22.3684" lengthAdjust="spacing">W2</text>
<g shape-rendering="geometricPrecision">
<polygon points="100.3,345 100.487,345.588 95.1688,341.556 90.3759,337.566 91.6241,335.634 97.2312,338.364 103.093,341.556 107.7,345" fill="#000"/>
</g>
<rect x="99" y="343" width="24" height="17.5" rx="4" fill="#000" shape-rendering="geometricPrecision"/>
<rect x="100.9" y="345.4" width="19.8" height="13.1" rx="1.5" fill="#fff" shape-rendering="geometricPrecision"/>
<g shape-rendering="geometricPrecision">
<polygon points="103.6,345.84 101.356,344.244 96.7415,340.548 96.9585,340.212 102.224,342.9 107,345.84" fill="#fff"/>
</g>
<text transform="translate(102,354.5) scale(0.76,1)" font-size="13" font-weight="normal" fill="#000" stroke="#000" stroke-width="0.25" text-anchor="start" textLength="22.3684" lengthAdjust="spacing">W3</text>
<rect x="245" y="482" width="65" height="25" fill="#000"/>
<rect x="247" y="483" width="4" height="6" fill="#fff"/>
<rect x="247" y="499" width="4" height="6" fill="#fff"/>
<rect x="253" y="483" width="3" height="6" fill="#fff"/>
<rect x="253" y="499" width="3" height="6" fill="#fff"/>
<rect x="259" y="483" width="3" height="6" fill="#fff"/>
<rect x="259" y="499" width="3" height="6" fill="#fff"/>
<rect x="293" y="483" width="4" height="6" fill="#fff"/>
<rect x="293" y="499" width="4" height="6" fill="#fff"/>
<rect x="299" y="483" width="3" height="6" fill="#fff"/>
<rect x="299" y="499" width="3" height="6" fill="#fff"/>
<rect x="305" y="483" width="3" height="6" fill="#fff"/>
<rect x="305" y="499" width="3" height="6" fill="#fff"/>
<rect x="266" y="483" width="3" height="2" fill="#fff"/>
<rect x="266" y="504" width="3" height="1" fill="#fff"/>
<rect x="271" y="483" width="3" height="2" fill="#fff"/>
<rect x="271" y="504" width="3" height="1" fill="#fff"/>
<rect x="277" y="483" width="3" height="2" fill="#fff"/>
<rect x="277" y="504" width="3" height="1" fill="#fff"/>
<rect x="282" y="483" width="3" height="2" fill="#fff"/>
<rect x="282" y="504" width="3" height="1" fill="#fff"/>
<rect x="288" y="483" width="3" height="2" fill="#fff"/>
<rect x="288" y="504" width="3" height="1" fill="#fff"/>
<rect x="252" y="491" width="9" height="5" fill="#fff"/>
<rect x="294" y="491" width="12" height="5" fill="#fff"/>
<rect x="245" y="492" width="3" height="4" fill="#fff"/>
<rect x="262.7" y="487" width="29.3" height="14.6" rx="2.5" fill="#fff" stroke="#000" stroke-width="1.4" shape-rendering="geometricPrecision"/>
<text transform="translate(265.5,499) scale(0.76,1)" font-size="12.5" font-weight="normal" fill="#000" stroke="#000" stroke-width="0.25" text-anchor="start" textLength="25.6579" lengthAdjust="spacing">U44</text>
<rect x="412" y="22" width="31" height="13" fill="#000"/>
<rect x="413" y="23" width="29" height="11" fill="#fff"/>
<g shape-rendering="geometricPrecision">
<rect x="413.00" y="23.75" width="4.5" height="4.1"/>
<rect x="413.50" y="30.5" width="3.8" height="3.2" fill="#fff" stroke="#000" stroke-width="1"/>
<rect x="418.80" y="23.75" width="4.5" height="4.1"/>
<rect x="418.80" y="30" width="4.5" height="3.9"/>
<rect x="424.60" y="23.75" width="4.5" height="4.1"/>
<rect x="424.60" y="30" width="4.5" height="3.9"/>
<rect x="430.40" y="23.75" width="4.5" height="4.1"/>
<rect x="430.40" y="30" width="4.5" height="3.9"/>
<rect x="436.20" y="23.75" width="4.5" height="4.1"/>
<rect x="436.20" y="30" width="4.5" height="3.9"/>
</g>
<rect x="460" y="22" width="37" height="13" fill="#000"/>
<rect x="461" y="23" width="35" height="11" fill="#fff"/>
<rect x="462" y="23" width="5" height="5" fill="#000"/>
<rect x="462" y="29" width="5" height="4" fill="#000"/>
<rect x="468" y="23" width="4" height="5" fill="#000"/>
<rect x="468" y="29" width="4" height="4" fill="#000"/>
<rect x="473" y="23" width="5" height="5" fill="#000"/>
<rect x="473" y="29" width="5" height="4" fill="#000"/>
<rect x="479" y="23" width="5" height="5" fill="#000"/>
<rect x="479" y="29" width="5" height="4" fill="#000"/>
<rect x="485" y="23" width="4" height="5" fill="#000"/>
<rect x="485" y="29" width="4" height="4" fill="#000"/>
<rect x="490" y="23" width="5" height="5" fill="#000"/>
<rect x="490" y="29" width="5" height="4" fill="#000"/>
<rect x="463" y="30" width="3" height="2" fill="#fff"/>
<rect x="518" y="22" width="48" height="13" fill="#000"/>
<rect x="519" y="23" width="46" height="11" fill="#fff"/>
<rect x="520" y="23" width="5" height="5" fill="#000"/>
<rect x="520" y="29" width="5" height="4" fill="#000"/>
<rect x="526" y="23" width="4" height="5" fill="#000"/>
<rect x="526" y="29" width="4" height="4" fill="#000"/>
<rect x="531" y="23" width="5" height="5" fill="#000"/>
<rect x="531" y="29" width="5" height="4" fill="#000"/>
<rect x="537" y="23" width="4" height="5" fill="#000"/>
<rect x="537" y="29" width="4" height="4" fill="#000"/>
<rect x="542" y="23" width="5" height="5" fill="#000"/>
<rect x="542" y="29" width="5" height="4" fill="#000"/>
<rect x="548" y="23" width="5" height="5" fill="#000"/>
<rect x="548" y="29" width="5" height="4" fill="#000"/>
<rect x="554" y="23" width="4" height="5" fill="#000"/>
<rect x="554" y="29" width="4" height="4" fill="#000"/>
<rect x="558" y="23" width="6" height="5" fill="#000"/>
<rect x="558" y="29" width="6" height="4" fill="#000"/>
<rect x="521" y="30" width="3" height="2" fill="#fff"/>
<rect x="627" y="211" width="25" height="14" fill="#000"/>
<rect x="628" y="212" width="23" height="12" fill="#fff"/>
<g shape-rendering="geometricPrecision">
<rect x="628.00" y="212.75" width="4.5" height="4.1"/>
<rect x="628.50" y="219.5" width="3.8" height="3.2" fill="#fff" stroke="#000" stroke-width="1"/>
<rect x="634.00" y="212.75" width="4.5" height="4.1"/>
<rect x="634.00" y="219" width="4.5" height="3.9"/>
<rect x="640.00" y="212.75" width="4.5" height="4.1"/>
<rect x="640.00" y="219" width="4.5" height="3.9"/>
<rect x="646.00" y="212.75" width="4.5" height="4.1"/>
<rect x="646.00" y="219" width="4.5" height="3.9"/>
</g>
<text transform="translate(411,18.5) scale(0.9,1)" font-size="11.5" font-weight="normal" fill="#000" stroke="#000" stroke-width="0.25" text-anchor="start">2</text>
<text transform="translate(436,18.5) scale(0.9,1)" font-size="11.5" font-weight="normal" fill="#000" stroke="#000" stroke-width="0.25" text-anchor="start" textLength="13.8889" lengthAdjust="spacing">10</text>
<text transform="translate(436,44) scale(0.9,1)" font-size="11.5" font-weight="normal" fill="#000" stroke="#000" stroke-width="0.25" text-anchor="start">9</text>
<text transform="translate(459,18.5) scale(0.9,1)" font-size="11.5" font-weight="normal" fill="#000" stroke="#000" stroke-width="0.25" text-anchor="start">2</text>
<text transform="translate(491,18.5) scale(0.9,1)" font-size="11.5" font-weight="normal" fill="#000" stroke="#000" stroke-width="0.25" text-anchor="start" textLength="13.8889" lengthAdjust="spacing">12</text>
<text transform="translate(493,44) scale(0.9,1)" font-size="11.5" font-weight="normal" fill="#000" stroke="#000" stroke-width="0.25" text-anchor="start" textLength="12.7778" lengthAdjust="spacing">11</text>
<text transform="translate(517.5,18.5) scale(0.9,1)" font-size="11.5" font-weight="normal" fill="#000" stroke="#000" stroke-width="0.25" text-anchor="start">2</text>
<text transform="translate(561,18.5) scale(0.9,1)" font-size="11.5" font-weight="normal" fill="#000" stroke="#000" stroke-width="0.25" text-anchor="start" textLength="13.8889" lengthAdjust="spacing">16</text>
<text transform="translate(561,44) scale(0.9,1)" font-size="11.5" font-weight="normal" fill="#000" stroke="#000" stroke-width="0.25" text-anchor="start" textLength="13.3333" lengthAdjust="spacing">15</text>
<text transform="translate(625.5,208.5) scale(0.9,1)" font-size="11.5" font-weight="normal" fill="#000" stroke="#000" stroke-width="0.25" text-anchor="start">2</text>
<text transform="translate(645.5,208.5) scale(0.9,1)" font-size="11.5" font-weight="normal" fill="#000" stroke="#000" stroke-width="0.25" text-anchor="start">8</text>
<text transform="translate(645.5,235) scale(0.9,1)" font-size="11.5" font-weight="normal" fill="#000" stroke="#000" stroke-width="0.25" text-anchor="start">7</text>
<rect x="412" y="44" width="14" height="7" fill="#000"/>
<rect x="413" y="45" width="12" height="1" fill="#fff"/>
<rect x="413" y="45" width="1" height="5" fill="#fff"/>
<rect x="418" y="46" width="1" height="4" fill="#fff"/>
<rect x="424" y="45" width="1" height="5" fill="#fff"/>
<g shape-rendering="geometricPrecision">
<polygon points="399,24.8 401.21,26.1 406.8,26.6 412,27.35 412,29.65 406.8,30.4 401.21,30.9 399,32.2" fill="#000"/>
</g>
<rect x="365" y="19" width="36" height="19" rx="4" fill="#000" shape-rendering="geometricPrecision"/>
<rect x="367" y="21" width="31.8" height="15" rx="1.5" fill="#fff" shape-rendering="geometricPrecision"/>
<g shape-rendering="geometricPrecision">
<polygon points="397.7,26.8 401.21,27.7 406.15,28.3 406.15,28.7 401.21,29.3 397.7,30.2" fill="#fff"/>
</g>
<text transform="translate(369,32) scale(0.76,1)" font-size="13" font-weight="normal" fill="#000" stroke="#000" stroke-width="0.25" text-anchor="start" textLength="33.5526" lengthAdjust="spacing">SW1</text>
<g shape-rendering="geometricPrecision">
<polygon points="405.3,60 409.6,56.55 415.06,53.08 420.31,50.08 421.69,51.92 417.34,56.12 412.48,60.39 412.7,60" fill="#000"/>
</g>
<rect x="388" y="58" width="26" height="19" rx="4" fill="#000" shape-rendering="geometricPrecision"/>
<rect x="389.9" y="60.4" width="21.8" height="14.6" rx="1.5" fill="#fff" shape-rendering="geometricPrecision"/>
<g shape-rendering="geometricPrecision">
<polygon points="406.1,60.9 410.56,57.83 415.48,54.89 415.72,55.21 411.52,59.11 409.5,60.9" fill="#fff"/>
</g>
<text transform="translate(392,71) scale(0.76,1)" font-size="13" font-weight="normal" fill="#000" stroke="#000" stroke-width="0.25" text-anchor="start" textLength="21.0526" lengthAdjust="spacing">W1</text>
<g shape-rendering="geometricPrecision">
<polygon points="468.8,54 470.1,50.77 470.6,42.6 471.35,35 473.65,35 474.4,42.6 474.9,50.77 476.2,54" fill="#000"/>
</g>
<rect x="452" y="52" width="39" height="19" rx="4" fill="#000" shape-rendering="geometricPrecision"/>
<rect x="453.9" y="54.4" width="34.8" height="14.6" rx="1.5" fill="#fff" shape-rendering="geometricPrecision"/>
<g shape-rendering="geometricPrecision">
<polygon points="470.8,55.9 471.7,50.77 472.3,43.55 472.7,43.55 473.3,50.77 474.2,55.9" fill="#fff"/>
</g>
<text transform="translate(456,65) scale(0.76,1)" font-size="13" font-weight="normal" fill="#000" stroke="#000" stroke-width="0.25" text-anchor="start" textLength="35.5263" lengthAdjust="spacing">SW3</text>
<g shape-rendering="geometricPrecision">
<polygon points="584,25.3 581.11,26.6 573.8,27.1 567,27.85 567,30.15 573.8,30.9 581.11,31.4 584,32.7" fill="#000"/>
</g>
<rect x="582" y="20" width="36" height="18" rx="4" fill="#000" shape-rendering="geometricPrecision"/>
<rect x="583.8" y="22" width="31.6" height="14.2" rx="1.5" fill="#fff" shape-rendering="geometricPrecision"/>
<g shape-rendering="geometricPrecision">
<polygon points="585.7,27.3 581.11,28.2 574.65,28.8 574.65,29.2 581.11,29.8 585.7,30.7" fill="#fff"/>
</g>
<text transform="translate(585,32) scale(0.76,1)" font-size="13" font-weight="normal" fill="#000" stroke="#000" stroke-width="0.25" text-anchor="start" textLength="34.2105" lengthAdjust="spacing">SW2</text>
<g shape-rendering="geometricPrecision">
<polygon points="606,215.8 608.819,217.016 616.144,217.301 622.966,217.85 623.034,220.15 616.256,221.099 608.961,221.814 606,223.2" fill="#000"/>
</g>
<rect x="572" y="210" width="36" height="19" rx="4" fill="#000" shape-rendering="geometricPrecision"/>
<rect x="573.9" y="212.4" width="31.8" height="14.6" rx="1.5" fill="#fff" shape-rendering="geometricPrecision"/>
<g shape-rendering="geometricPrecision">
<polygon points="604.3,217.85 608.866,218.615 615.344,219.025 615.356,219.425 608.914,220.215 604.3,221.25" fill="#fff"/>
</g>
<text transform="translate(575.5,223) scale(0.76,1)" font-size="13" font-weight="normal" fill="#000" stroke="#000" stroke-width="0.25" text-anchor="start" textLength="34.2105" lengthAdjust="spacing">SW5</text>
<text transform="translate(704,35) scale(1,1)" font-size="11" font-weight="normal" fill="#000" stroke="#000" stroke-width="0.25" text-anchor="start" textLength="42" lengthAdjust="spacing">MH0634</text>
<rect x="814" y="40" width="7" height="62" fill="#000"/>
<rect x="790" y="51" width="31" height="41" fill="#000"/>
<rect x="820.5" y="51.5" width="14" height="40" rx="2.5" fill="#fff" stroke="#000" stroke-width="1" shape-rendering="geometricPrecision"/>
<rect x="820" y="51" width="1" height="41" fill="#000"/>
<rect x="817" y="44" width="2" height="2" fill="#fff"/>
<rect x="817" y="96" width="2" height="2" fill="#fff"/>
<rect x="815" y="111" width="6" height="112" fill="#000"/>
<rect x="791" y="122" width="30" height="91" fill="#000"/>
<rect x="820.5" y="122.5" width="14" height="90" rx="2.5" fill="#fff" stroke="#000" stroke-width="1" shape-rendering="geometricPrecision"/>
<rect x="820" y="122" width="1" height="91" fill="#000"/>
<rect x="818" y="115" width="2" height="2" fill="#fff"/>
<rect x="818" y="217" width="2" height="2" fill="#fff"/>
<rect x="815" y="251" width="6" height="61" fill="#000"/>
<rect x="791" y="262" width="30" height="40" fill="#000"/>
<rect x="820.5" y="262.5" width="14" height="39" rx="2.5" fill="#fff" stroke="#000" stroke-width="1" shape-rendering="geometricPrecision"/>
<rect x="820" y="262" width="1" height="40" fill="#000"/>
<rect x="818" y="254" width="2" height="2" fill="#fff"/>
<rect x="818" y="306" width="2" height="2" fill="#fff"/>
<rect x="814" y="326" width="7" height="62" fill="#000"/>
<rect x="790" y="337" width="31" height="41" fill="#000"/>
<rect x="820.5" y="337.5" width="14" height="40" rx="2.5" fill="#fff" stroke="#000" stroke-width="1" shape-rendering="geometricPrecision"/>
<rect x="820" y="337" width="1" height="41" fill="#000"/>
<rect x="817" y="330" width="2" height="2" fill="#fff"/>
<rect x="817" y="381" width="2" height="2" fill="#fff"/>
<g shape-rendering="geometricPrecision">
<polygon points="771,67.8 773.932,69.1514 781.234,69.7803 788.02,70.6502 787.98,72.9498 781.166,73.5797 773.848,73.9506 771,75.2" fill="#000"/>
</g>
<rect x="747" y="62" width="26" height="19" rx="4" fill="#000" shape-rendering="geometricPrecision"/>
<rect x="748.9" y="64.4" width="21.8" height="14.6" rx="1.5" fill="#fff" shape-rendering="geometricPrecision"/>
<g shape-rendering="geometricPrecision">
<polygon points="769.3,69.77 773.904,70.7511 780.354,71.465 780.346,71.865 773.876,72.3509 769.3,73.17" fill="#fff"/>
</g>
<text transform="translate(753,75) scale(0.76,1)" font-size="13" font-weight="normal" fill="#000" stroke="#000" stroke-width="0.25" text-anchor="start" textLength="14.4737" lengthAdjust="spacing">J1</text>
<g shape-rendering="geometricPrecision">
<polygon points="771,161.8 773.89,163.1 781.2,163.6 788,164.35 788,166.65 781.2,167.4 773.89,167.9 771,169.2" fill="#000"/>
</g>
<rect x="736" y="156" width="37" height="19" rx="4" fill="#000" shape-rendering="geometricPrecision"/>
<rect x="737.9" y="158.4" width="32.8" height="14.6" rx="1.5" fill="#fff" shape-rendering="geometricPrecision"/>
<g shape-rendering="geometricPrecision">
<polygon points="769.3,163.8 773.89,164.7 780.35,165.3 780.35,165.7 773.89,166.3 769.3,167.2" fill="#fff"/>
</g>
<text transform="translate(742,169) scale(0.76,1)" font-size="13" font-weight="normal" fill="#000" stroke="#000" stroke-width="0.25" text-anchor="start" textLength="27.6316" lengthAdjust="spacing">J15</text>
<g shape-rendering="geometricPrecision">
<polygon points="773,276.8 775.862,278.066 783.178,278.48 789.986,279.15 790.014,281.45 783.222,282.28 775.918,282.866 773,284.2" fill="#000"/>
</g>
<rect x="749" y="271" width="26" height="19" rx="4" fill="#000" shape-rendering="geometricPrecision"/>
<rect x="750.9" y="273.4" width="21.8" height="14.6" rx="1.5" fill="#fff" shape-rendering="geometricPrecision"/>
<g shape-rendering="geometricPrecision">
<polygon points="771.3,278.82 775.881,279.666 782.348,280.19 782.352,280.59 775.899,281.266 771.3,282.22" fill="#fff"/>
</g>
<text transform="translate(753,284) scale(0.76,1)" font-size="13" font-weight="normal" fill="#000" stroke="#000" stroke-width="0.25" text-anchor="start" textLength="17.1053" lengthAdjust="spacing">J9</text>
<g shape-rendering="geometricPrecision">
<polygon points="771,354.55 773.883,355.842 781.194,356.32 787.997,357.05 788.003,359.35 781.206,360.12 773.897,360.641 771,361.95" fill="#000"/>
</g>
<rect x="737" y="349" width="36" height="18.5" rx="4" fill="#000" shape-rendering="geometricPrecision"/>
<rect x="738.9" y="351.4" width="31.8" height="14.1" rx="1.5" fill="#fff" shape-rendering="geometricPrecision"/>
<g shape-rendering="geometricPrecision">
<polygon points="769.3,356.555 773.888,357.442 780.349,358.023 780.351,358.422 773.892,359.041 769.3,359.955" fill="#fff"/>
</g>
<text transform="translate(741.5,361.5) scale(0.76,1)" font-size="13" font-weight="normal" fill="#000" stroke="#000" stroke-width="0.25" text-anchor="start" textLength="26.3158" lengthAdjust="spacing">J10</text>
<rect x="619" y="90" width="66" height="56" fill="#000"/>
<rect x="621" y="88" width="62" height="60" fill="#000"/>
<rect x="623" y="85" width="56" height="66" fill="#000"/>
<rect x="619" y="99" width="3" height="1" fill="#fff"/>
<rect x="619" y="102" width="3" height="1" fill="#fff"/>
<rect x="619" y="105" width="3" height="1" fill="#fff"/>
<rect x="619" y="116" width="3" height="1" fill="#fff"/>
<rect x="619" y="119" width="3" height="1" fill="#fff"/>
<rect x="619" y="122" width="3" height="1" fill="#fff"/>
<rect x="619" y="133" width="3" height="1" fill="#fff"/>
<rect x="619" y="136" width="3" height="1" fill="#fff"/>
<rect x="619" y="139" width="3" height="1" fill="#fff"/>
<rect x="619" y="142" width="3" height="1" fill="#fff"/>
<rect x="682" y="89" width="3" height="1" fill="#fff"/>
<rect x="682" y="91" width="3" height="1" fill="#fff"/>
<rect x="682" y="105" width="3" height="1" fill="#fff"/>
<rect x="682" y="108" width="3" height="1" fill="#fff"/>
<rect x="682" y="111" width="3" height="1" fill="#fff"/>
<rect x="682" y="122" width="3" height="1" fill="#fff"/>
<rect x="682" y="125" width="3" height="1" fill="#fff"/>
<rect x="682" y="128" width="3" height="1" fill="#fff"/>
<rect x="682" y="131" width="3" height="1" fill="#fff"/>
<rect x="682" y="143" width="3" height="1" fill="#fff"/>
<rect x="628" y="85" width="1" height="3" fill="#fff"/>
<rect x="639" y="85" width="1" height="3" fill="#fff"/>
<rect x="642" y="85" width="1" height="3" fill="#fff"/>
<rect x="645" y="85" width="1" height="3" fill="#fff"/>
<rect x="656" y="85" width="1" height="3" fill="#fff"/>
<rect x="659" y="85" width="1" height="3" fill="#fff"/>
<rect x="662" y="85" width="1" height="3" fill="#fff"/>
<rect x="673" y="85" width="1" height="3" fill="#fff"/>
<rect x="676" y="85" width="1" height="3" fill="#fff"/>
<rect x="679" y="85" width="1" height="3" fill="#fff"/>
<rect x="625" y="148" width="1" height="3" fill="#fff"/>
<rect x="628" y="148" width="1" height="3" fill="#fff"/>
<rect x="631" y="148" width="1" height="3" fill="#fff"/>
<rect x="634" y="148" width="1" height="3" fill="#fff"/>
<rect x="644" y="148" width="1" height="3" fill="#fff"/>
<rect x="647" y="148" width="1" height="3" fill="#fff"/>
<rect x="650" y="148" width="1" height="3" fill="#fff"/>
<rect x="661" y="148" width="1" height="3" fill="#fff"/>
<rect x="664" y="148" width="1" height="3" fill="#fff"/>
<rect x="667" y="148" width="1" height="3" fill="#fff"/>
<rect x="678" y="148" width="1" height="3" fill="#fff"/>
<rect x="681" y="148" width="1" height="3" fill="#fff"/>
<rect x="623" y="166" width="49" height="27" fill="#000"/>
<rect x="624.5" y="168" width="45.5" height="23" rx="2.5" fill="#fff" shape-rendering="geometricPrecision"/>
<rect x="493" y="281" width="43" height="57" fill="#000"/>
<rect x="496" y="279" width="37" height="61" fill="#000"/>
<rect x="499" y="277" width="31" height="65" fill="#000"/>
<rect x="493" y="285" width="3" height="1" fill="#fff"/>
<rect x="493" y="288" width="3" height="1" fill="#fff"/>
<rect x="493" y="291" width="3" height="1" fill="#fff"/>
<rect x="493" y="302" width="3" height="1" fill="#fff"/>
<rect x="493" y="305" width="3" height="1" fill="#fff"/>
<rect x="493" y="308" width="3" height="1" fill="#fff"/>
<rect x="493" y="319" width="3" height="1" fill="#fff"/>
<rect x="493" y="322" width="3" height="1" fill="#fff"/>
<rect x="493" y="325" width="3" height="1" fill="#fff"/>
<rect x="533" y="283" width="3" height="1" fill="#fff"/>
<rect x="533" y="286" width="3" height="1" fill="#fff"/>
<rect x="533" y="297" width="3" height="1" fill="#fff"/>
<rect x="533" y="300" width="3" height="1" fill="#fff"/>
<rect x="533" y="303" width="3" height="1" fill="#fff"/>
<rect x="533" y="314" width="3" height="1" fill="#fff"/>
<rect x="533" y="317" width="3" height="1" fill="#fff"/>
<rect x="533" y="331" width="3" height="1" fill="#fff"/>
<rect x="533" y="334" width="3" height="1" fill="#fff"/>
<rect x="504" y="277" width="1" height="3" fill="#fff"/>
<rect x="507" y="277" width="1" height="3" fill="#fff"/>
<rect x="510" y="277" width="1" height="3" fill="#fff"/>
<rect x="513" y="277" width="1" height="3" fill="#fff"/>
<rect x="524" y="277" width="1" height="3" fill="#fff"/>
<rect x="527" y="277" width="1" height="3" fill="#fff"/>
<rect x="530" y="277" width="1" height="3" fill="#fff"/>
<rect x="506" y="339" width="1" height="3" fill="#fff"/>
<rect x="509" y="339" width="1" height="3" fill="#fff"/>
<rect x="512" y="339" width="1" height="3" fill="#fff"/>
<rect x="523" y="339" width="1" height="3" fill="#fff"/>
<rect x="526" y="339" width="1" height="3" fill="#fff"/>
<rect x="553" y="282" width="65" height="58" fill="#000"/>
<rect x="556" y="280" width="59" height="62" fill="#000"/>
<rect x="559" y="278" width="53" height="66" fill="#000"/>
<rect x="553" y="284" width="3" height="1" fill="#fff"/>
<rect x="553" y="286" width="3" height="1" fill="#fff"/>
<rect x="553" y="297" width="3" height="1" fill="#fff"/>
<rect x="553" y="300" width="3" height="1" fill="#fff"/>
<rect x="553" y="303" width="3" height="1" fill="#fff"/>
<rect x="553" y="306" width="3" height="1" fill="#fff"/>
<rect x="553" y="317" width="3" height="1" fill="#fff"/>
<rect x="553" y="320" width="3" height="1" fill="#fff"/>
<rect x="553" y="323" width="3" height="1" fill="#fff"/>
<rect x="553" y="334" width="3" height="1" fill="#fff"/>
<rect x="615" y="288" width="3" height="1" fill="#fff"/>
<rect x="615" y="291" width="3" height="1" fill="#fff"/>
<rect x="615" y="294" width="3" height="1" fill="#fff"/>
<rect x="615" y="305" width="3" height="1" fill="#fff"/>
<rect x="615" y="308" width="3" height="1" fill="#fff"/>
<rect x="615" y="311" width="3" height="1" fill="#fff"/>
<rect x="615" y="322" width="3" height="1" fill="#fff"/>
<rect x="615" y="325" width="3" height="1" fill="#fff"/>
<rect x="615" y="328" width="3" height="1" fill="#fff"/>
<rect x="564" y="278" width="1" height="3" fill="#fff"/>
<rect x="567" y="278" width="1" height="3" fill="#fff"/>
<rect x="570" y="278" width="1" height="3" fill="#fff"/>
<rect x="581" y="278" width="1" height="3" fill="#fff"/>
<rect x="584" y="278" width="1" height="3" fill="#fff"/>
<rect x="587" y="278" width="1" height="3" fill="#fff"/>
<rect x="598" y="278" width="1" height="3" fill="#fff"/>
<rect x="601" y="278" width="1" height="3" fill="#fff"/>
<rect x="604" y="278" width="1" height="3" fill="#fff"/>
<rect x="567" y="341" width="1" height="3" fill="#fff"/>
<rect x="570" y="341" width="1" height="3" fill="#fff"/>
<rect x="573" y="341" width="1" height="3" fill="#fff"/>
<rect x="584" y="341" width="1" height="3" fill="#fff"/>
<rect x="587" y="341" width="1" height="3" fill="#fff"/>
<rect x="590" y="341" width="1" height="3" fill="#fff"/>
<rect x="601" y="341" width="1" height="3" fill="#fff"/>
<rect x="604" y="341" width="1" height="3" fill="#fff"/>
<rect x="607" y="341" width="1" height="3" fill="#fff"/>
<rect x="638" y="282" width="43" height="58" fill="#000"/>
<rect x="641" y="280" width="37" height="62" fill="#000"/>
<rect x="644" y="278" width="31" height="66" fill="#000"/>
<rect x="638" y="286" width="3" height="1" fill="#fff"/>
<rect x="638" y="289" width="3" height="1" fill="#fff"/>
<rect x="638" y="292" width="3" height="1" fill="#fff"/>
<rect x="638" y="303" width="3" height="1" fill="#fff"/>
<rect x="638" y="306" width="3" height="1" fill="#fff"/>
<rect x="638" y="309" width="3" height="1" fill="#fff"/>
<rect x="638" y="320" width="3" height="1" fill="#fff"/>
<rect x="638" y="323" width="3" height="1" fill="#fff"/>
<rect x="638" y="326" width="3" height="1" fill="#fff"/>
<rect x="678" y="284" width="3" height="1" fill="#fff"/>
<rect x="678" y="287" width="3" height="1" fill="#fff"/>
<rect x="678" y="298" width="3" height="1" fill="#fff"/>
<rect x="678" y="301" width="3" height="1" fill="#fff"/>
<rect x="678" y="304" width="3" height="1" fill="#fff"/>
<rect x="678" y="315" width="3" height="1" fill="#fff"/>
<rect x="678" y="318" width="3" height="1" fill="#fff"/>
<rect x="678" y="321" width="3" height="1" fill="#fff"/>
<rect x="678" y="332" width="3" height="1" fill="#fff"/>
<rect x="647" y="278" width="1" height="3" fill="#fff"/>
<rect x="650" y="278" width="1" height="3" fill="#fff"/>
<rect x="653" y="278" width="1" height="3" fill="#fff"/>
<rect x="664" y="278" width="1" height="3" fill="#fff"/>
<rect x="667" y="278" width="1" height="3" fill="#fff"/>
<rect x="670" y="278" width="1" height="3" fill="#fff"/>
<rect x="650" y="341" width="1" height="3" fill="#fff"/>
<rect x="653" y="341" width="1" height="3" fill="#fff"/>
<rect x="656" y="341" width="1" height="3" fill="#fff"/>
<rect x="667" y="341" width="1" height="3" fill="#fff"/>
<rect x="670" y="341" width="1" height="3" fill="#fff"/>
<rect x="673" y="341" width="1" height="3" fill="#fff"/>
<rect x="432" y="238" width="128" height="20" fill="#000"/>
<rect x="439" y="245" width="113" height="6" fill="#fff"/>
<rect x="570" y="238" width="202" height="20" fill="#000"/>
<rect x="578" y="245" width="186" height="6" fill="#fff"/>
<g shape-rendering="geometricPrecision">
<polygon points="445.3,267 445.424,267.443 440.119,263.162 435.345,258.946 436.655,257.054 442.281,260.038 448.156,263.497 452.7,267" fill="#000"/>
</g>
<rect x="443" y="265" width="25" height="19" rx="4" fill="#000" shape-rendering="geometricPrecision"/>
<rect x="444.9" y="267.4" width="20.8" height="14.6" rx="1.5" fill="#fff" shape-rendering="geometricPrecision"/>
<g shape-rendering="geometricPrecision">
<polygon points="448.6,267.9 446.335,266.128 441.736,262.214 441.964,261.886 447.245,264.812 452,267.9" fill="#fff"/>
</g>
<text transform="translate(448.5,278) scale(0.76,1)" font-size="13" font-weight="normal" fill="#000" stroke="#000" stroke-width="0.25" text-anchor="start" textLength="16.4474" lengthAdjust="spacing">R1</text>
<rect x="748" y="258" width="19" height="6" fill="#000"/>
<rect x="749" y="259" width="1" height="4" fill="#fff"/>
<rect x="751" y="260" width="2" height="2" fill="#fff"/>
<rect x="754" y="259" width="1" height="4" fill="#fff"/>
<rect x="759" y="259" width="1" height="4" fill="#fff"/>
<g shape-rendering="geometricPrecision">
<polygon points="729.5,257.8 732.528,258.95 740.508,259.062 747.944,259.451 748.056,261.749 740.692,262.858 732.762,263.744 729.5,265.2" fill="#000"/>
</g>
<rect x="696" y="253" width="35.5" height="17" rx="4" fill="#000" shape-rendering="geometricPrecision"/>
<rect x="698" y="254" width="31.1" height="13.8" rx="1.5" fill="#fff" shape-rendering="geometricPrecision"/>
<g shape-rendering="geometricPrecision">
<polygon points="727.65,259.89 732.606,260.548 739.665,260.805 739.685,261.205 732.684,262.146 727.65,263.29" fill="#fff"/>
</g>
<text transform="translate(700,264.8) scale(0.76,1)" font-size="13" font-weight="normal" fill="#000" stroke="#000" stroke-width="0.25" text-anchor="start" textLength="31.5789" lengthAdjust="spacing">W13</text>
<rect x="687" y="372" width="19" height="7" fill="#000"/>
<rect x="688" y="373" width="1" height="5" fill="#fff"/>
<rect x="690" y="374" width="2" height="3" fill="#fff"/>
<rect x="693" y="373" width="2" height="5" fill="#fff"/>
<rect x="699" y="373" width="1" height="5" fill="#fff"/>
<rect x="734" y="372" width="19" height="7" fill="#000"/>
<rect x="735" y="373" width="1" height="5" fill="#fff"/>
<rect x="737" y="374" width="2" height="3" fill="#fff"/>
<rect x="740" y="373" width="2" height="5" fill="#fff"/>
<rect x="746" y="373" width="1" height="5" fill="#fff"/>
<rect x="765" y="411" width="14" height="7" fill="#000"/>
<rect x="766" y="412" width="12" height="1" fill="#fff"/>
<rect x="766" y="412" width="1" height="5" fill="#fff"/>
<rect x="771" y="412" width="1" height="5" fill="#fff"/>
<rect x="777" y="412" width="1" height="5" fill="#fff"/>
<rect x="679" y="480" width="19" height="7" fill="#000"/>
<rect x="680" y="481" width="1" height="5" fill="#fff"/>
<rect x="682" y="482" width="2" height="3" fill="#fff"/>
<rect x="685" y="481" width="2" height="5" fill="#fff"/>
<rect x="691" y="481" width="1" height="5" fill="#fff"/>
<g shape-rendering="geometricPrecision">
<polygon points="682.3,362.5 686.33,365.769 691.149,368.811 695.803,371.415 697.197,369.585 693.451,365.789 689.24,361.951 689.7,362.5" fill="#000"/>
</g>
<rect x="656" y="346" width="35" height="18.5" rx="4" fill="#000" shape-rendering="geometricPrecision"/>
<rect x="657.9" y="348.4" width="30.8" height="14.1" rx="1.5" fill="#fff" shape-rendering="geometricPrecision"/>
<g shape-rendering="geometricPrecision">
<polygon points="683.25,361.7 687.3,364.496 691.654,367.059 691.896,366.741 688.27,363.224 686.65,361.7" fill="#fff"/>
</g>
<text transform="translate(659,358.5) scale(0.76,1)" font-size="13" font-weight="normal" fill="#000" stroke="#000" stroke-width="0.25" text-anchor="start" textLength="33.5526" lengthAdjust="spacing">W18</text>
<g shape-rendering="geometricPrecision">
<polygon points="753.3,389 753.581,389.661 748.476,385.8 743.88,381.969 745.12,380.031 750.524,382.6 756.169,385.619 760.7,389" fill="#000"/>
</g>
<rect x="751" y="387" width="34.5" height="18.5" rx="4" fill="#000" shape-rendering="geometricPrecision"/>
<rect x="752.9" y="389.4" width="30.3" height="14.1" rx="1.5" fill="#fff" shape-rendering="geometricPrecision"/>
<g shape-rendering="geometricPrecision">
<polygon points="756.55,389.8 754.444,388.314 750.017,384.768 750.233,384.432 755.306,386.966 759.95,389.8" fill="#fff"/>
</g>
<text transform="translate(755,399.5) scale(0.76,1)" font-size="13" font-weight="normal" fill="#000" stroke="#000" stroke-width="0.25" text-anchor="start" textLength="31.5789" lengthAdjust="spacing">W17</text>
<g shape-rendering="geometricPrecision">
<polygon points="747,411.55 749.855,412.808 757.172,413.2 763.983,413.85 764.017,416.15 757.228,417 749.925,417.607 747,418.95" fill="#000"/>
</g>
<rect x="713" y="406" width="36" height="18.5" rx="4" fill="#000" shape-rendering="geometricPrecision"/>
<rect x="714.9" y="408.4" width="31.8" height="14.1" rx="1.5" fill="#fff" shape-rendering="geometricPrecision"/>
<g shape-rendering="geometricPrecision">
<polygon points="745.3,413.575 749.878,414.408 756.347,414.913 756.353,415.312 749.902,416.007 745.3,416.975" fill="#fff"/>
</g>
<text transform="translate(717.5,418.5) scale(0.76,1)" font-size="13" font-weight="normal" fill="#000" stroke="#000" stroke-width="0.25" text-anchor="start" textLength="30.9211" lengthAdjust="spacing">W21</text>
<g shape-rendering="geometricPrecision">
<polygon points="708.8,491 709.073,491.513 704.202,487.45 699.835,483.438 701.165,481.562 706.398,484.35 711.847,487.597 716.2,491" fill="#000"/>
</g>
<rect x="707" y="489" width="25" height="18.5" rx="4" fill="#000" shape-rendering="geometricPrecision"/>
<rect x="708.9" y="491.4" width="20.8" height="14.1" rx="1.5" fill="#fff" shape-rendering="geometricPrecision"/>
<g shape-rendering="geometricPrecision">
<polygon points="712,491.85 709.998,490.208 705.784,486.488 706.016,486.162 710.922,488.902 715.4,491.85" fill="#fff"/>
</g>
<text transform="translate(710,501.5) scale(0.76,1)" font-size="13" font-weight="normal" fill="#000" stroke="#000" stroke-width="0.25" text-anchor="start" textLength="22.3684" lengthAdjust="spacing">W7</text>
<rect x="595" y="382" width="77" height="38" fill="#000"/>
<text transform="translate(618,394.2) scale(1,1)" font-size="11" font-weight="bold" fill="#fff" stroke="#fff" stroke-width="0.2" text-anchor="start" textLength="46" lengthAdjust="spacing">DALLAS</text>
<text transform="translate(618,405.3) scale(1,1)" font-size="11" font-weight="bold" fill="#fff" stroke="#fff" stroke-width="0.2" text-anchor="start" textLength="40" lengthAdjust="spacing">DS1287</text>
<text transform="translate(618,415.8) scale(1,1)" font-size="10.5" font-weight="bold" fill="#fff" stroke="#fff" stroke-width="0.2" text-anchor="start" textLength="52" lengthAdjust="spacing">REAL TIME</text>
<g shape-rendering="geometricPrecision" fill="#fff">
<circle cx="607" cy="400.8" r="8"/>
<rect x="605.3" y="395.6" width="2.3" height="6.8" fill="#000"/>
<rect x="605.3" y="400.3" width="7.8" height="2.1" fill="#000"/>
<path d="M607.6 394.2 Q612.5 394.6 613.6 399.4" fill="none" stroke="#000" stroke-width="1.3"/>
<polygon points="599.2,393.6 599.2,390.6 600.6,389.2 603,389.2 603.9,390.8 601.5,391.6"/>
<polygon points="609.2,389.6 613.4,389 615.2,393.8 613.8,393.8 612,391.4"/>
<polygon points="603.3,408 600.3,413.2 601.6,414 602.2,412.2 605,408.6"/>
<polygon points="610.6,408 613.6,413.2 612.3,414 611.7,412.2 609,408.6"/>
</g>
<rect x="625" y="434" width="126" height="43" fill="#000"/>
<rect x="625" y="449" width="2" height="11" fill="#fff"/>
<rect x="674" y="448" width="28" height="13" rx="1.5" fill="#fff" shape-rendering="geometricPrecision"/>
<text transform="translate(676,459) scale(0.76,1)" font-size="13" font-weight="normal" fill="#000" stroke="#000" stroke-width="0.25" text-anchor="start" textLength="31.5789" lengthAdjust="spacing">KBD</text>
<rect x="765" y="436" width="27" height="37" fill="#000"/>
<rect x="789" y="431" width="7" height="46" fill="#000"/>
<rect x="792" y="429" width="4" height="51" fill="#000"/>
<rect x="758" y="444" width="7" height="9" fill="#000"/>
<rect x="759" y="445" width="5" height="7" fill="#fff"/>
<rect x="758" y="455" width="7" height="9" fill="#000"/>
<rect x="759" y="456" width="5" height="7" fill="#fff"/>
<rect x="762" y="442" width="3" height="9" fill="#000"/>
<rect x="763" y="443" width="2" height="7" fill="#fff"/>
<rect x="762" y="457" width="3" height="9" fill="#000"/>
<rect x="763" y="458" width="2" height="7" fill="#fff"/>
<rect x="450" y="469" width="119" height="13" fill="#000"/>
<rect x="451" y="470" width="1" height="11" fill="#fff"/>
<rect x="456" y="470" width="2" height="11" fill="#fff"/>
<rect x="462" y="470" width="2" height="11" fill="#fff"/>
<rect x="468" y="470" width="2" height="11" fill="#fff"/>
<rect x="473" y="470" width="2" height="11" fill="#fff"/>
<rect x="479" y="470" width="2" height="11" fill="#fff"/>
<rect x="485" y="470" width="2" height="11" fill="#fff"/>
<rect x="491" y="470" width="2" height="11" fill="#fff"/>
<rect x="497" y="470" width="2" height="11" fill="#fff"/>
<rect x="503" y="470" width="2" height="11" fill="#fff"/>
<rect x="508" y="470" width="2" height="11" fill="#fff"/>
<rect x="514" y="470" width="2" height="11" fill="#fff"/>
<rect x="520" y="470" width="2" height="11" fill="#fff"/>
<rect x="526" y="470" width="2" height="11" fill="#fff"/>
<rect x="532" y="470" width="2" height="11" fill="#fff"/>
<rect x="538" y="470" width="2" height="11" fill="#fff"/>
<rect x="544" y="470" width="2" height="11" fill="#fff"/>
<rect x="549" y="470" width="2" height="11" fill="#fff"/>
<rect x="555" y="470" width="2" height="11" fill="#fff"/>
<rect x="561" y="470" width="2" height="11" fill="#fff"/>
<rect x="451" y="475" width="117" height="1" fill="#fff"/>
<rect x="451" y="480" width="117" height="1" fill="#fff"/>
<rect x="564" y="471" width="3" height="3" fill="#fff"/>
<rect x="468" y="501" width="101" height="13" fill="#000"/>
<rect x="469" y="502" width="1" height="11" fill="#fff"/>
<rect x="474" y="502" width="2" height="11" fill="#fff"/>
<rect x="480" y="502" width="2" height="11" fill="#fff"/>
<rect x="485" y="502" width="2" height="11" fill="#fff"/>
<rect x="491" y="502" width="2" height="11" fill="#fff"/>
<rect x="497" y="502" width="2" height="11" fill="#fff"/>
<rect x="503" y="502" width="2" height="11" fill="#fff"/>
<rect x="509" y="502" width="2" height="11" fill="#fff"/>
<rect x="515" y="502" width="2" height="11" fill="#fff"/>
<rect x="520" y="502" width="2" height="11" fill="#fff"/>
<rect x="526" y="502" width="2" height="11" fill="#fff"/>
<rect x="532" y="502" width="2" height="11" fill="#fff"/>
<rect x="538" y="502" width="2" height="11" fill="#fff"/>
<rect x="544" y="502" width="2" height="11" fill="#fff"/>
<rect x="550" y="502" width="2" height="11" fill="#fff"/>
<rect x="555" y="502" width="2" height="11" fill="#fff"/>
<rect x="561" y="502" width="2" height="11" fill="#fff"/>
<rect x="469" y="507" width="99" height="1" fill="#fff"/>
<rect x="469" y="512" width="99" height="1" fill="#fff"/>
<rect x="564" y="503" width="3" height="3" fill="#fff"/>
<g shape-rendering="geometricPrecision">
<polygon points="431,471.55 433.855,472.808 441.172,473.2 447.983,473.85 448.017,476.15 441.228,477 433.925,477.607 431,478.95" fill="#000"/>
</g>
<rect x="397" y="466" width="36" height="18.5" rx="4" fill="#000" shape-rendering="geometricPrecision"/>
<rect x="399" y="468" width="31.5" height="13.7" rx="1.5" fill="#fff" shape-rendering="geometricPrecision"/>
<g shape-rendering="geometricPrecision">
<polygon points="429.3,473.575 433.878,474.408 440.347,474.913 440.353,475.312 433.902,476.007 429.3,476.975" fill="#fff"/>
</g>
<text transform="translate(403,478.5) scale(0.76,1)" font-size="13" font-weight="normal" fill="#000" stroke="#000" stroke-width="0.25" text-anchor="start" textLength="25" lengthAdjust="spacing">J17</text>
<g shape-rendering="geometricPrecision">
<polygon points="450,503.8 452.876,505.083 460.189,505.54 466.993,506.25 467.007,508.55 460.211,509.34 452.904,509.883 450,511.2" fill="#000"/>
</g>
<rect x="416" y="498" width="36" height="19" rx="4" fill="#000" shape-rendering="geometricPrecision"/>
<rect x="418" y="500" width="31.5" height="14.2" rx="1.5" fill="#fff" shape-rendering="geometricPrecision"/>
<g shape-rendering="geometricPrecision">
<polygon points="448.3,505.81 452.885,506.683 459.349,507.245 459.351,507.645 452.895,508.283 448.3,509.21" fill="#fff"/>
</g>
<text transform="translate(421.5,511) scale(0.76,1)" font-size="13" font-weight="normal" fill="#000" stroke="#000" stroke-width="0.25" text-anchor="start" textLength="26.9737" lengthAdjust="spacing">J16</text>
<rect x="586" y="490" width="113" height="24" fill="#000"/>
<rect x="587" y="491" width="111" height="22" fill="#fff"/>
<rect x="587" y="498" width="111" height="1" fill="#000"/>
<rect x="590" y="493" width="4" height="1" fill="#000"/>
<rect x="589" y="494" width="6" height="1" fill="#000"/>
<rect x="588" y="495" width="8" height="1" fill="#000"/>
<rect x="590" y="496" width="4" height="1" fill="#000"/>
<rect x="588.5" y="500.5" width="6.5" height="2" rx="1" fill="#fff" stroke="#000" stroke-width="1" shape-rendering="geometricPrecision"/>
<rect x="599" y="493" width="4" height="1" fill="#000"/>
<rect x="598" y="494" width="6" height="1" fill="#000"/>
<rect x="597" y="495" width="8" height="1" fill="#000"/>
<rect x="599" y="496" width="4" height="1" fill="#000"/>
<rect x="597.5" y="500.5" width="6.5" height="2" rx="1" fill="#fff" stroke="#000" stroke-width="1" shape-rendering="geometricPrecision"/>
<rect x="609" y="493" width="4" height="1" fill="#000"/>
<rect x="608" y="494" width="6" height="1" fill="#000"/>
<rect x="607" y="495" width="8" height="1" fill="#000"/>
<rect x="609" y="496" width="4" height="1" fill="#000"/>
<rect x="607.5" y="500.5" width="6.5" height="2" rx="1" fill="#fff" stroke="#000" stroke-width="1" shape-rendering="geometricPrecision"/>
<rect x="618" y="493" width="4" height="1" fill="#000"/>
<rect x="617" y="494" width="6" height="1" fill="#000"/>
<rect x="616" y="495" width="8" height="1" fill="#000"/>
<rect x="618" y="496" width="4" height="1" fill="#000"/>
<rect x="616.5" y="500.5" width="6.5" height="2" rx="1" fill="#fff" stroke="#000" stroke-width="1" shape-rendering="geometricPrecision"/>
<rect x="627" y="493" width="4" height="1" fill="#000"/>
<rect x="626" y="494" width="6" height="1" fill="#000"/>
<rect x="625" y="495" width="8" height="1" fill="#000"/>
<rect x="627" y="496" width="4" height="1" fill="#000"/>
<rect x="625.5" y="500.5" width="6.5" height="2" rx="1" fill="#fff" stroke="#000" stroke-width="1" shape-rendering="geometricPrecision"/>
<rect x="637" y="493" width="4" height="1" fill="#000"/>
<rect x="636" y="494" width="6" height="1" fill="#000"/>
<rect x="635" y="495" width="8" height="1" fill="#000"/>
<rect x="637" y="496" width="4" height="1" fill="#000"/>
<rect x="635.5" y="500.5" width="6.5" height="2" rx="1" fill="#fff" stroke="#000" stroke-width="1" shape-rendering="geometricPrecision"/>
<rect x="646" y="493" width="4" height="1" fill="#000"/>
<rect x="645" y="494" width="6" height="1" fill="#000"/>
<rect x="644" y="495" width="8" height="1" fill="#000"/>
<rect x="646" y="496" width="4" height="1" fill="#000"/>
<rect x="644.5" y="500.5" width="6.5" height="2" rx="1" fill="#fff" stroke="#000" stroke-width="1" shape-rendering="geometricPrecision"/>
<rect x="655" y="493" width="4" height="1" fill="#000"/>
<rect x="654" y="494" width="6" height="1" fill="#000"/>
<rect x="653" y="495" width="8" height="1" fill="#000"/>
<rect x="655" y="496" width="4" height="1" fill="#000"/>
<rect x="653.5" y="500.5" width="6.5" height="2" rx="1" fill="#fff" stroke="#000" stroke-width="1" shape-rendering="geometricPrecision"/>
<rect x="664" y="493" width="4" height="1" fill="#000"/>
<rect x="663" y="494" width="6" height="1" fill="#000"/>
<rect x="662" y="495" width="8" height="1" fill="#000"/>
<rect x="664" y="496" width="4" height="1" fill="#000"/>
<rect x="662.5" y="500.5" width="6.5" height="2" rx="1" fill="#fff" stroke="#000" stroke-width="1" shape-rendering="geometricPrecision"/>
<rect x="674" y="493" width="4" height="1" fill="#000"/>
<rect x="673" y="494" width="6" height="1" fill="#000"/>
<rect x="672" y="495" width="8" height="1" fill="#000"/>
<rect x="674" y="496" width="4" height="1" fill="#000"/>
<rect x="672.5" y="500.5" width="6.5" height="2" rx="1" fill="#fff" stroke="#000" stroke-width="1" shape-rendering="geometricPrecision"/>
<rect x="683" y="493" width="4" height="1" fill="#000"/>
<rect x="682" y="494" width="6" height="1" fill="#000"/>
<rect x="681" y="495" width="8" height="1" fill="#000"/>
<rect x="683" y="496" width="4" height="1" fill="#000"/>
<rect x="681.5" y="500.5" width="6.5" height="2" rx="1" fill="#fff" stroke="#000" stroke-width="1" shape-rendering="geometricPrecision"/>
<rect x="692" y="493" width="4" height="1" fill="#000"/>
<rect x="691" y="494" width="6" height="1" fill="#000"/>
<rect x="690" y="495" width="8" height="1" fill="#000"/>
<rect x="692" y="496" width="4" height="1" fill="#000"/>
<rect x="690.5" y="500.5" width="6.5" height="2" rx="1" fill="#fff" stroke="#000" stroke-width="1" shape-rendering="geometricPrecision"/>
<rect x="592" y="504" width="8" height="7" fill="#000"/>
<rect x="593" y="505" width="6" height="5" fill="#fff"/>
<rect x="601" y="504" width="8" height="7" fill="#000"/>
<rect x="602" y="505" width="6" height="5" fill="#fff"/>
<rect x="611" y="504" width="8" height="7" fill="#000"/>
<rect x="612" y="505" width="6" height="5" fill="#fff"/>
<rect x="620" y="504" width="8" height="7" fill="#000"/>
<rect x="621" y="505" width="6" height="5" fill="#fff"/>
<rect x="629" y="504" width="8" height="7" fill="#000"/>
<rect x="630" y="505" width="6" height="5" fill="#fff"/>
<rect x="638" y="504" width="8" height="7" fill="#000"/>
<rect x="639" y="505" width="6" height="5" fill="#fff"/>
<rect x="648" y="504" width="8" height="7" fill="#000"/>
<rect x="649" y="505" width="6" height="5" fill="#fff"/>
<rect x="657" y="504" width="8" height="7" fill="#000"/>
<rect x="658" y="505" width="6" height="5" fill="#fff"/>
<rect x="666" y="504" width="8" height="7" fill="#000"/>
<rect x="667" y="505" width="6" height="5" fill="#fff"/>
<rect x="675" y="504" width="8" height="7" fill="#000"/>
<rect x="676" y="505" width="6" height="5" fill="#fff"/>
<rect x="687" y="504" width="7" height="7" fill="#000"/>
<rect x="688" y="505" width="5" height="5" fill="#fff"/>
<rect x="586" y="506" width="1" height="4" fill="#fff"/>
<rect x="587" y="505" width="2" height="1" fill="#000"/>
<rect x="587" y="510" width="2" height="1" fill="#000"/>
<rect x="588" y="506" width="1" height="4" fill="#000"/>
<rect x="698" y="506" width="1" height="4" fill="#fff"/>
<rect x="696" y="505" width="2" height="1" fill="#000"/>
<rect x="696" y="510" width="2" height="1" fill="#000"/>
<rect x="696" y="506" width="1" height="4" fill="#000"/>
</svg>
</body></html>
